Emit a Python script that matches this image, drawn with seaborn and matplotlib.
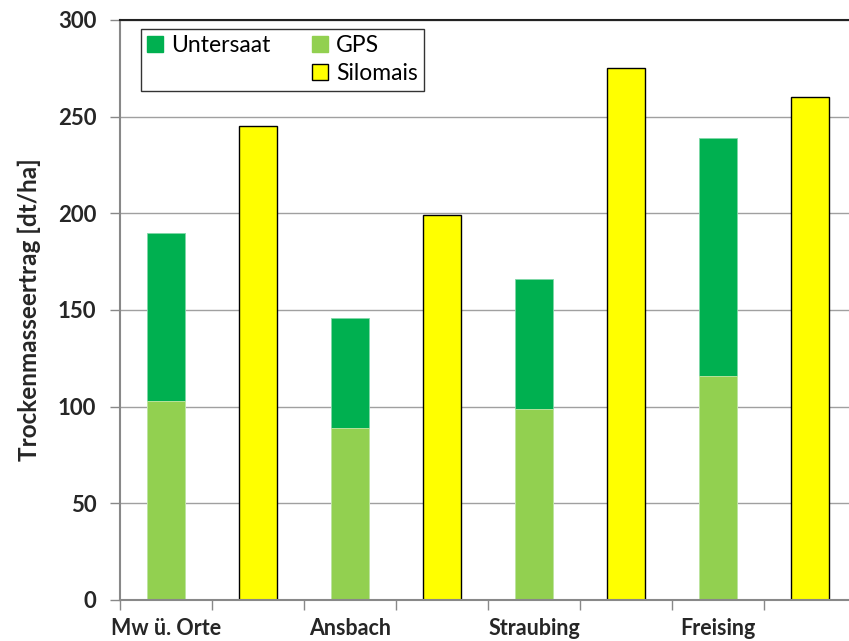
import matplotlib
matplotlib.use("Agg")
from matplotlib import pyplot as plt
from matplotlib.patches import Patch
import numpy as np
import pandas as pd
import seaborn as sb

# data
sites = ["Mw ü. Orte", "Ansbach", "Straubing", "Freising"]
gps = [103, 89, 99, 116]
gps_plus_untersaat = [190, 146, 166, 239]
silomais = [245, 199, 275, 260]

# one slot for the stacked bar, one for silomais, per site
slots = []
for s in sites:
    slots += [s + " | GPS", s + " | Silomais"]

df_gps = pd.DataFrame({"slot": [s + " | GPS" for s in sites],
                       "total": gps_plus_untersaat, "gps": gps})
df_silo = pd.DataFrame({"slot": [s + " | Silomais" for s in sites],
                        "silo": silomais})

sb.set_theme(style="white")
plt.rcParams["font.family"] = ["Lato", "DejaVu Sans"]

c_unter = "#00b050"
c_gps = "#92d050"
c_silo = "#ffff00"

fig = plt.figure(figsize=(8.49, 6.41), dpi=100)
ax = fig.add_axes([120 / 849, 41 / 641, 736 / 849, 580 / 641])

sb.barplot(data=df_gps, x="slot", y="total", order=slots, color=c_unter,
           width=0.42, saturation=1, edgecolor="#7fd8a7", linewidth=0.6, ax=ax)
sb.barplot(data=df_gps, x="slot", y="gps", order=slots, color=c_gps,
           width=0.42, saturation=1, edgecolor="#c8e8a8", linewidth=0.6, ax=ax)
sb.barplot(data=df_silo, x="slot", y="silo", order=slots, color=c_silo,
           width=0.42, saturation=1, edgecolor="black", linewidth=1.0, ax=ax)

ax.set_ylim(0, 300)
ax.set_xlim(-0.5, len(slots) - 0.5)
ax.set_yticks(np.arange(0, 301, 50))
ax.yaxis.grid(True, color="#a0a0a0", linewidth=1)
ax.set_axisbelow(True)

# boundary ticks without labels, site names under the stacked bars
ax.set_xticks(np.arange(-0.5, len(slots), 1))
ax.set_xticklabels([])
ax.set_xticks(np.arange(0, len(slots), 2), minor=True)
ax.set_xticklabels(sites, minor=True, fontsize=15.5, fontweight="bold")
ax.tick_params(axis="x", which="major", length=7, color="#888888", width=1, direction="out", bottom=True)
ax.tick_params(axis="x", which="minor", length=0, pad=13)
ax.tick_params(axis="y", length=7, color="#888888", width=1, direction="out", left=True, labelsize=16, pad=10)
for lab in ax.get_yticklabels():
    lab.set_fontweight("bold")

ax.set_xlabel("")
ax.set_ylabel("Trockenmasseertrag [dt/ha]", fontsize=17.5, fontweight="bold", labelpad=12)

for side in ["left", "bottom"]:
    ax.spines[side].set_color("#888888")
    ax.spines[side].set_linewidth(1.5)
ax.spines["top"].set_color("#222222")
ax.spines["top"].set_linewidth(1.5)
ax.spines["right"].set_color("#222222")

handles = [Patch(facecolor=c_unter, edgecolor=c_unter),
           Patch(facecolor="none", edgecolor="none"),
           Patch(facecolor=c_gps, edgecolor=c_gps),
           Patch(facecolor=c_silo, edgecolor="black")]
labels = ["Untersaat", "", "GPS", "Silomais"]
leg = ax.legend(handles, labels, ncol=2, loc="upper left",
                bbox_to_anchor=(21 / 736, 1 - 9 / 580), fontsize=16.5,
                frameon=True, fancybox=False, handlelength=0.7, handleheight=0.7,
                handletextpad=0.35, columnspacing=1.8, borderpad=0.28,
                labelspacing=0.3, borderaxespad=0)
leg.get_frame().set_edgecolor("black")
leg.get_frame().set_linewidth(1)
for t in leg.get_texts():
    t.set_color("black")

fig.savefig("out.png", dpi=100)
